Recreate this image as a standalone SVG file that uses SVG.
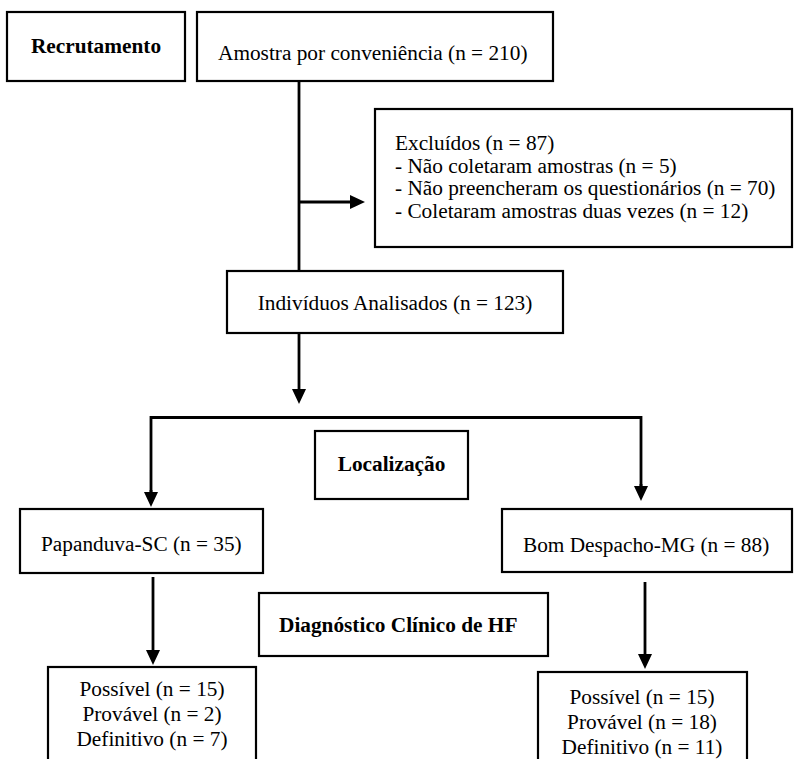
<svg xmlns="http://www.w3.org/2000/svg" width="794" height="759" viewBox="0 0 794 759">
<style>
.box{fill:#fff;stroke:#000;stroke-width:2.2}
.t{font-family:"Liberation Serif","Times New Roman",serif;font-size:21.3px;fill:#000}
.b{font-weight:bold}
.c{text-anchor:middle}
.ln{fill:none;stroke:#000;stroke-width:2.8}
</style>
<defs>
<marker id="ah" markerUnits="userSpaceOnUse" markerWidth="16" markerHeight="16" refX="10" refY="7" orient="auto">
<path d="M0,0 L15,7 L0,14 Z" fill="#000"/>
</marker>
</defs>
<rect width="794" height="759" fill="#fff"/>
<g id="connectors">
<line class="ln" x1="299" y1="81" x2="299" y2="271"/>
<line class="ln" x1="299" y1="202" x2="360" y2="202" marker-end="url(#ah)"/>
<line class="ln" x1="299" y1="333" x2="299" y2="399" marker-end="url(#ah)"/>
<polyline class="ln" points="151,502 151,417.5 641,417.5 641,496"/>
<line class="ln" x1="151" y1="490" x2="151" y2="502" marker-end="url(#ah)"/>
<line class="ln" x1="641" y1="484" x2="641" y2="496" marker-end="url(#ah)"/>
<line class="ln" x1="153" y1="577" x2="153" y2="660" marker-end="url(#ah)"/>
<line class="ln" x1="645" y1="582" x2="645" y2="664" marker-end="url(#ah)"/>
</g>
<g id="recrutamento">
<rect class="box" x="7" y="12" width="178" height="69"/>
<text class="t b c" x="96" y="53">Recrutamento</text>
</g>
<g id="amostra">
<rect class="box" x="197" y="12" width="356" height="69"/>
<text class="t" x="218" y="60">Amostra por conveniência (n = 210)</text>
</g>
<g id="excluidos">
<rect class="box" x="375" y="109" width="417" height="138"/>
<text class="t" x="395" y="150">Excluídos (n = 87)</text>
<text class="t" x="395" y="172.5">- Não coletaram amostras (n = 5)</text>
<text class="t" x="395" y="195">- Não preencheram os questionários (n = 70)</text>
<text class="t" x="395" y="217.5">- Coletaram amostras duas vezes (n = 12)</text>
</g>
<g id="individuos">
<rect class="box" x="227" y="271" width="336" height="62"/>
<text class="t c" x="395" y="310">Indivíduos Analisados (n = 123)</text>
</g>
<g id="localizacao">
<rect class="box" x="315" y="431" width="153" height="68"/>
<text class="t b c" x="391.5" y="471">Localização</text>
</g>
<g id="papanduva">
<rect class="box" x="20" y="509" width="243" height="64"/>
<text class="t" x="41" y="551">Papanduva-SC (n = 35)</text>
</g>
<g id="bomdespacho">
<rect class="box" x="502" y="509" width="290" height="63"/>
<text class="t" x="523" y="552">Bom Despacho-MG (n = 88)</text>
</g>
<g id="diagnostico">
<rect class="box" x="259" y="593" width="289" height="63"/>
<text class="t b" x="279" y="632">Diagnóstico Clínico de HF</text>
</g>
<g id="papanduva-diag">
<rect class="box" x="48" y="667" width="208" height="120"/>
<text class="t c" x="152" y="696">Possível (n = 15)</text>
<text class="t c" x="152" y="721">Provável (n = 2)</text>
<text class="t c" x="152" y="746">Definitivo (n = 7)</text>
</g>
<g id="bomdespacho-diag">
<rect class="box" x="538" y="672" width="209" height="120"/>
<text class="t c" x="642" y="704">Possível (n = 15)</text>
<text class="t c" x="642" y="729">Provável (n = 18)</text>
<text class="t c" x="642" y="754">Definitivo (n = 11)</text>
</g>
</svg>
